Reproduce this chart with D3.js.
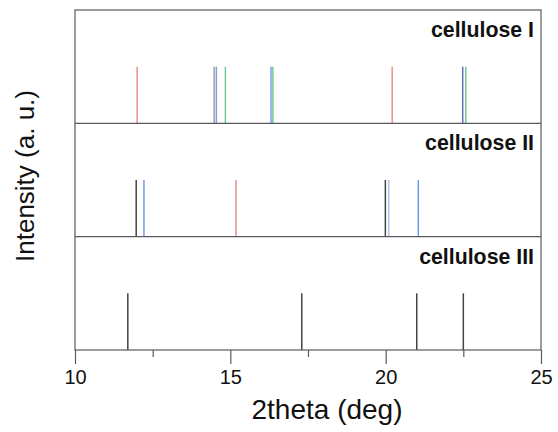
<!DOCTYPE html>
<html lang="en">
<head>
  <meta charset="UTF-8">
  <title>cellulose XRD peaks</title>
  <style>
    body { margin: 0; background: #fff; }
    text { font-family: "Liberation Sans", Arial, sans-serif; }
  </style>
</head>
<body>
  <script src="https://d3js.org/d3.v7.min.js"></script>
  <script>
    // peak positions (2theta, deg)
    const panelNames = ['cellulose I', 'cellulose II', 'cellulose III'];
    const cellIRed = [12.0, 20.21];
    const cellIGrey = [14.48];
    const cellIBlue = [14.55, 16.31];
    const cellIGreen = [14.84, 16.37, 22.58];
    const cellINavy = [22.48];
    const cellIIBlack = [11.97, 19.99];
    const cellIILightBlue = [20.1];
    const cellIIBlue = [12.22, 21.05];
    const cellIIRed = [15.18];
    const cellIIIPeaks = [11.7, 17.3, 21.0, 22.5];
    const peakIntensity = 1;
    const xTicks = [10, 15, 20, 25];
    const xMinorTicks = [12.5, 17.5, 22.5];

    const width = 558, height = 432;
    const margin = { top: 10, right: 17, bottom: 82, left: 75 };
    const axisColor = '#5a5a5a';

    const svg = d3.select('body').append('svg')
      .attr('width', width).attr('height', height);

    const xScale = d3.scaleLinear().domain([10, 25]).range([margin.left, width - margin.right]);
    const panelH = (height - margin.top - margin.bottom) / 3;
    const yScales = panelNames.map((n, i) =>
      d3.scaleLinear().domain([0, 2])
        .range([margin.top + panelH * (i + 1), margin.top + panelH * i]));

    // series per panel
    const series = [
      [{ d: cellIRed, c: '#f08c8c' }, { d: cellIGrey, c: '#a0a0a0' }, { d: cellIBlue, c: '#76a2e6' },
       { d: cellIGreen, c: '#74c894' }, { d: cellINavy, c: '#6670b4' }],
      [{ d: cellIIBlack, c: '#444' }, { d: cellIILightBlue, c: '#aac8ec' },
       { d: cellIIBlue, c: '#6e9ce4' }, { d: cellIIRed, c: '#f08c8c' }],
      [{ d: cellIIIPeaks, c: '#444' }]
    ];

    // peaks
    series.forEach((group, i) => {
      const y = yScales[i];
      const g = svg.append('g').classed('panel', true);
      group.forEach(s => {
        g.selectAll(null).data(s.d).join('line')
          .attr('x1', d => xScale(d)).attr('x2', d => xScale(d))
          .attr('y1', y(0)).attr('y2', y(peakIntensity))
          .attr('stroke', s.c).attr('stroke-width', 1.5);
      });
      g.append('text')
        .attr('x', width - margin.right - 7)
        .attr('y', y(2) + 27)
        .attr('text-anchor', 'end')
        .attr('font-size', 21.3).attr('font-weight', 'bold')
        .attr('fill', '#111')
        .text(panelNames[i]);
    });

    // frame and panel separators
    svg.append('rect')
      .attr('x', margin.left).attr('y', margin.top)
      .attr('width', width - margin.left - margin.right)
      .attr('height', panelH * 3)
      .attr('fill', 'none').attr('stroke', axisColor).attr('stroke-width', 1.2);
    svg.append('g').selectAll('line').data([1, 2]).join('line')
      .attr('x1', margin.left).attr('x2', width - margin.right)
      .attr('y1', i => margin.top + panelH * i).attr('y2', i => margin.top + panelH * i)
      .attr('stroke', axisColor).attr('stroke-width', 1.2);

    // x axis
    const y0 = margin.top + panelH * 3;
    svg.append('g').attr('transform', `translate(0,${y0})`)
      .call(d3.axisBottom(xScale).tickValues(xTicks).tickSize(14).tickPadding(6).tickSizeOuter(0))
      .call(g => g.select('.domain').remove())
      .call(g => g.selectAll('.tick line').attr('stroke', axisColor).attr('stroke-width', 1.2))
      .call(g => g.selectAll('.tick text').attr('font-size', 20).attr('fill', '#111')
        .attr('font-family', '"Liberation Sans", Arial, sans-serif'));
    svg.append('g').attr('transform', `translate(0,${y0})`)
      .call(d3.axisBottom(xScale).tickValues(xMinorTicks).tickSize(7).tickFormat('').tickSizeOuter(0))
      .call(g => g.select('.domain').remove())
      .call(g => g.selectAll('.tick line').attr('stroke', axisColor).attr('stroke-width', 1.2));

    // axis titles
    svg.append('text')
      .attr('x', 327).attr('y', 419)
      .attr('text-anchor', 'middle').attr('font-size', 28).attr('fill', '#111')
      .text('2theta (deg)');
    svg.append('text')
      .attr('transform', `translate(34,176) rotate(-90)`)
      .attr('text-anchor', 'middle').attr('font-size', 26).attr('fill', '#111')
      .text('Intensity (a. u.)');
  </script>
</body>
</html>
